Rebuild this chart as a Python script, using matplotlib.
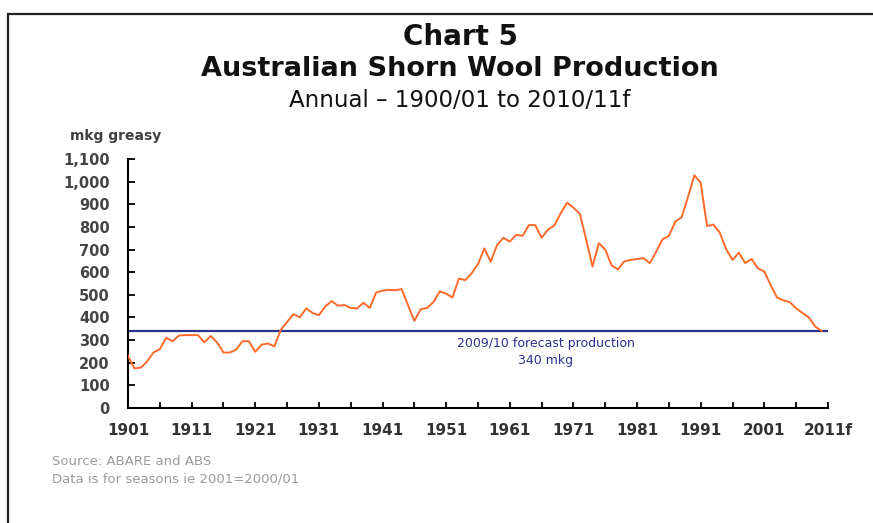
import matplotlib
matplotlib.use("Agg")
import matplotlib.pyplot as plt
from matplotlib.patches import Rectangle

# shorn wool production, mkg greasy, season ending year
years = list(range(1901, 2011))
production = [
    230, 175, 178, 205, 245, 260, 310, 295, 320, 322,
    322, 322, 290, 318, 290, 245, 245, 258, 295, 295,
    248, 280, 285, 272, 345, 380, 415, 400, 440, 420,
    410, 448, 472, 452, 455, 442, 440, 465, 442, 510,
    518, 522, 520, 525, 455, 385, 436, 442, 468, 515,
    505, 488, 572, 565, 595, 635, 705, 646, 720, 752,
    735, 765, 760, 808, 808, 752, 788, 806, 860, 907,
    885, 858, 745, 625, 728, 700, 630, 612, 648, 654,
    658, 662, 640, 690, 745, 760, 823, 842, 932, 1028,
    995, 804, 810, 775, 702, 654, 686, 640, 658, 617,
    603, 543, 488, 475, 468, 440, 420, 400, 360, 340,
]
forecast = 340
tick_years = list(range(1901, 2012, 10))
tick_labels = [str(y) for y in tick_years[:-1]] + ["2011f"]

orange = "#FF6A2A"
navy = "#2B3090"

fig = plt.figure(figsize=(8.73, 5.23), dpi=100)
ax = fig.add_axes([0.1466, 0.2199, 0.8018, 0.4761])

ax.plot(years, production, color=orange, lw=1.4, zorder=3)
ax.plot([1901, 2011], [forecast, forecast], color=navy, lw=1.6, zorder=2)
ax.text(1966.7, 248, "2009/10 forecast production\n340 mkg", color=navy,
        ha="center", va="center", fontsize=9, linespacing=1.35)

ax.set_xlim(1901, 2011)
ax.set_ylim(0, 1100)
ax.set_xticks(tick_years)
ax.set_xticklabels(tick_labels)
ax.set_xticks(range(1906, 2011, 10), minor=True)
ax.set_yticks(range(0, 1101, 100))
ax.set_yticklabels([f"{v:,}" for v in range(0, 1101, 100)])

for s in ["top", "right"]:
    ax.spines[s].set_visible(False)
for s in ["left", "bottom"]:
    ax.spines[s].set_linewidth(1.5)
    ax.spines[s].set_color("black")

ax.tick_params(axis="y", direction="in", length=5, width=1.3, pad=13,
               labelsize=10.5, labelcolor="#454545")
ax.tick_params(axis="x", which="both", direction="in", length=4, width=1.3,
               pad=11, labelsize=11, labelcolor="#333333")
for lab in ax.get_xticklabels() + ax.get_yticklabels():
    lab.set_fontweight("bold")

fig.text(0.0802, 0.7323, "mkg greasy", fontsize=10, fontweight="bold",
         color="#404040", ha="left", va="baseline")

fig.text(0.527, 0.914, "Chart 5", fontsize=20, fontweight="bold",
         ha="center", va="baseline", color="#111111")
fig.text(0.527, 0.8547, "Australian Shorn Wool Production", fontsize=19.5,
         fontweight="bold", ha="center", va="baseline", color="#111111")
fig.text(0.527, 0.7954, "Annual \u2013 1900/01 to 2010/11f", fontsize=16.5,
         ha="center", va="baseline", color="#111111")

fig.text(0.0596, 0.1109, "Source: ABARE and ABS", fontsize=9.5,
         color="#9a9a9a", ha="left", va="baseline")
fig.text(0.0596, 0.0765, "Data is for seasons ie 2001=2000/01", fontsize=9.5,
         color="#9a9a9a", ha="left", va="baseline")

# page frame around the chart
fig.patches.append(Rectangle((8 / 873, -0.1), 1.1, 1.1 - 14 / 523 + 0.0,
                             transform=fig.transFigure, fill=False,
                             edgecolor="#222222", lw=1.6))

fig.savefig("out.png", dpi=100, facecolor="white")
